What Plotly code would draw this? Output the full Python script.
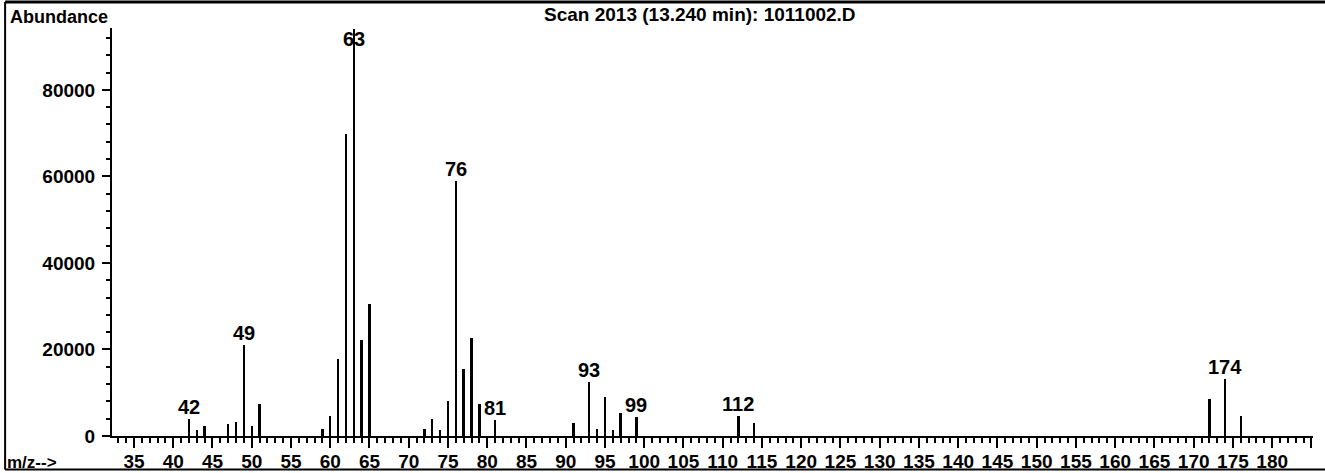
import plotly.graph_objects as go

# ---- data ----
mz = [42, 43, 44, 47, 48, 49, 50, 51, 59, 60, 61, 62, 63, 64, 65,
      72, 73, 74, 75, 76, 77, 78, 79, 81, 91, 93, 94, 95, 96, 97, 99,
      112, 114, 172, 174, 176]
abundance = [3900, 1400, 2200, 2800, 3300, 21000, 2300, 7400, 1600, 4600, 17700, 69800, 94000, 22200, 30500,
             1600, 3850, 1400, 8200, 59000, 15400, 22600, 7500, 3700, 3100, 12400, 1550, 9100, 1400, 5400, 4500,
             4700, 2900, 8600, 13100, 4600]
labeled_mz = [42, 49, 63, 76, 81, 93, 99, 112, 174]
x_tickvals = list(range(35, 186, 5))
x_ticktext = [str(v) for v in range(35, 181, 5)] + [""]
y_tickvals = [0, 20000, 40000, 60000, 80000]
title_text = "Scan 2013 (13.240 min): 1011002.D"

X_RANGE = [32.2, 185.2]
Y_MAX = 94300

FONT = "Liberation Sans, Arial, sans-serif"

fig = go.Figure()
fig.add_trace(go.Bar(x=mz, y=abundance, width=0.3,
                     marker=dict(color="black", line=dict(width=0)),
                     hoverinfo="x+y"))

annotations = []
lookup = dict(zip(mz, abundance))
for m in labeled_mz:
    v = lookup[m]
    if v > 0.95 * Y_MAX:
        annotations.append(dict(x=m, y=Y_MAX, xref="x", yref="y", text=str(m), showarrow=False,
                                yanchor="top", xanchor="center", yshift=2,
                                font=dict(family=FONT, size=20, color="black", weight="bold")))
    else:
        annotations.append(dict(x=m, y=v, xref="x", yref="y", text=str(m), showarrow=False,
                                yanchor="bottom", xanchor="center", yshift=-1,
                                font=dict(family=FONT, size=20, color="black", weight="bold")))

annotations += [
    dict(x=-0.087, y=1.027, xref="paper", yref="paper", text="Abundance", showarrow=False,
         xanchor="left", yanchor="middle", font=dict(family=FONT, size=18, color="black", weight="bold")),
    dict(x=-0.089, y=-0.066, xref="paper", yref="paper", text="m/z-->", showarrow=False,
         xanchor="left", yanchor="middle", font=dict(family=FONT, size=17, color="black", weight="bold")),
    dict(x=0.4896, y=1.032, xref="paper", yref="paper", text=title_text, showarrow=False,
         xanchor="center", yanchor="middle", font=dict(family=FONT, size=19, color="black", weight="bold")),
]

shapes = [
    dict(type="line", xref="paper", yref="paper", x0=-0.089, x1=1.02, y0=1.064, y1=1.064,
         line=dict(color="black", width=3)),
    dict(type="line", xref="paper", yref="paper", x0=-0.089, x1=-0.089, y0=1.064, y1=-0.082,
         line=dict(color="black", width=2)),
    dict(type="line", xref="paper", yref="paper", x0=-0.089, x1=1.02, y0=-0.082, y1=-0.082,
         line=dict(color="black", width=2)),
]

fig.update_layout(
    width=1325, height=473,
    margin=dict(l=112, r=12, t=28, b=37, autoexpand=False),
    paper_bgcolor="white", plot_bgcolor="white",
    showlegend=False,
    annotations=annotations,
    shapes=shapes,
    bargap=0,
    xaxis=dict(range=X_RANGE, tickmode="array", tickvals=x_tickvals, ticktext=x_ticktext,
               tickangle=0, showgrid=False, zeroline=False, automargin=False,
               showline=True, linecolor="black", linewidth=2,
               ticks="outside", ticklen=10, tickwidth=2, tickcolor="black",
               minor=dict(dtick=1, tick0=0, ticks="outside", ticklen=5, tickwidth=2, tickcolor="black", showgrid=False),
               ticklabelstandoff=-3,
               tickfont=dict(family=FONT, size=19, color="black", weight="bold")),
    yaxis=dict(range=[0, Y_MAX], tickmode="array", tickvals=y_tickvals, tickformat="d",
               showgrid=False, zeroline=False, automargin=False,
               showline=True, linecolor="black", linewidth=2,
               ticks="outside", ticklen=8, tickwidth=2, tickcolor="black",
               minor=dict(dtick=4000, tick0=0, ticks="outside", ticklen=4, tickwidth=2, tickcolor="black", showgrid=False),
               ticklabelstandoff=3,
               tickfont=dict(family=FONT, size=19, color="black", weight="bold")),
)

fig.write_html("out.html")
